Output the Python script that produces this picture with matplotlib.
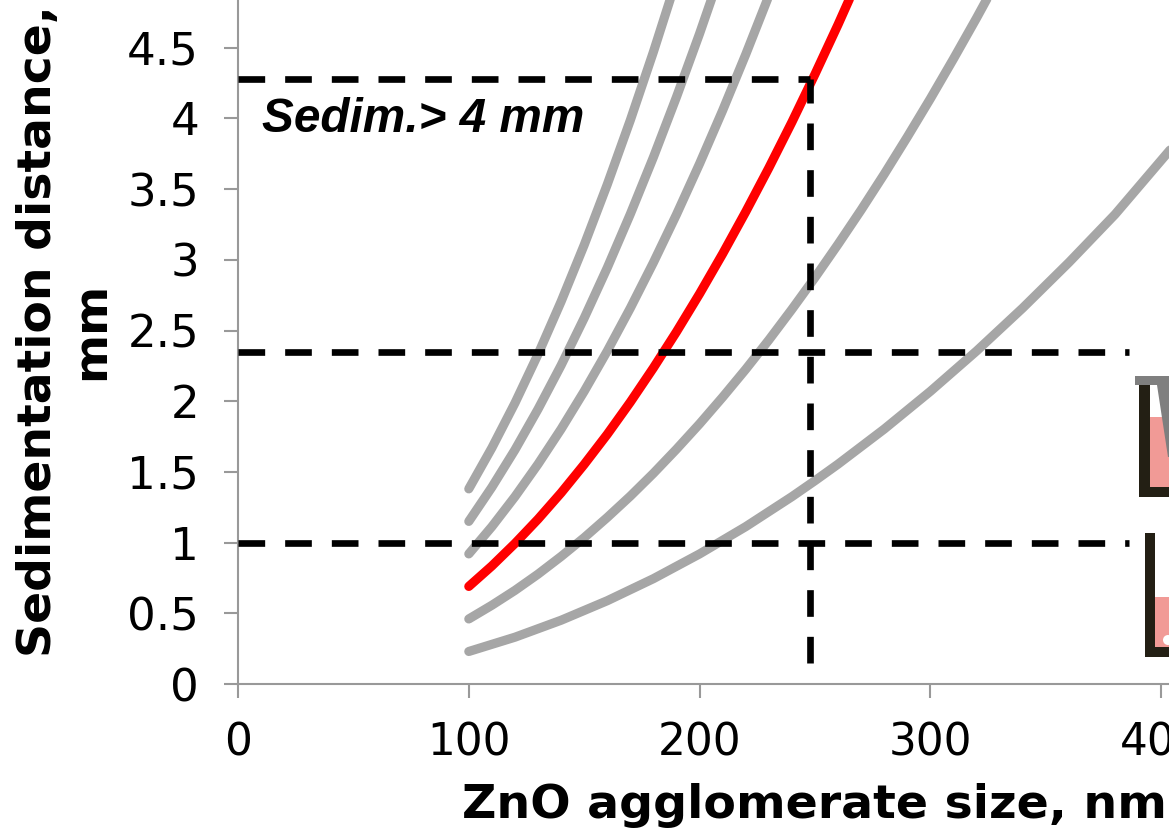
import matplotlib
matplotlib.use("Agg")
import matplotlib.pyplot as plt
from matplotlib.patches import Rectangle, Polygon, Circle

W, H = 1169, 831

# values
size_a = [100, 110, 120, 130, 140, 150, 160, 170, 180, 190, 195]
dist_a = [1.380, 1.670, 1.987, 2.332, 2.705, 3.105, 3.533, 3.988, 4.471, 4.982, 5.247]
size_b = [100, 110, 120, 130, 140, 150, 160, 170, 180, 190, 200, 210]
dist_b = [1.150, 1.392, 1.656, 1.944, 2.254, 2.588, 2.944, 3.324, 3.726, 4.152, 4.600, 5.072]
size_c = [100, 110, 120, 130, 140, 150, 160, 170, 180, 190, 200, 210, 220, 230, 240]
dist_c = [0.920, 1.113, 1.325, 1.555, 1.803, 2.070, 2.355, 2.659, 2.981, 3.321, 3.680, 4.057, 4.453, 4.867, 5.299]
size_red = [100, 110, 120, 130, 140, 150, 160, 170, 180, 190, 200, 210, 220, 230, 240, 250, 260, 270, 280]
dist_red = [0.690, 0.835, 0.994, 1.166, 1.352, 1.553, 1.766, 1.994, 2.236, 2.491, 2.760, 3.043, 3.340, 3.650,
            3.974, 4.313, 4.664, 5.030, 5.410]
size_d = [100, 110, 120, 130, 140, 150, 160, 170, 180, 190, 200, 210, 220, 230, 240, 250, 260, 270, 280, 290, 300,
          310, 320, 330, 340]
dist_d = [0.460, 0.557, 0.662, 0.777, 0.902, 1.035, 1.178, 1.329, 1.490, 1.661, 1.840, 2.029, 2.226, 2.433, 2.650,
          2.875, 3.110, 3.353, 3.606, 3.869, 4.140, 4.421, 4.710, 5.009, 5.318]
size_e = [100, 120, 140, 160, 180, 200, 220, 240, 250, 260, 280, 300, 320, 340, 360, 380, 404]
dist_e = [0.230, 0.331, 0.451, 0.589, 0.745, 0.920, 1.113, 1.325, 1.438, 1.555, 1.803, 2.070, 2.355, 2.659, 2.981,
          3.321, 3.780]

guide_y = [4.28, 2.35, 1.0]
guide_end = [248, 386, 386]
guide_x = 248
guide_x_from = 0.15

y_ticks = [0, 0.5, 1, 1.5, 2, 2.5, 3, 3.5, 4, 4.5]
y_labels = ["0", "0.5", "1", "1.5", "2", "2.5", "3", "3.5", "4", "4.5"]
x_ticks = [0, 100, 200, 300, 400]

GREY = "#A6A6A6"
AXIS = "#999999"
PINK = "#F19A96"
DARK = "#231F14"
CAP = "#7F7F7F"


def box(x0, y0, x1, y1, color):
    # rectangle given in picture pixels
    fig.add_artist(Rectangle((x0 / W, 1 - y1 / H), (x1 - x0) / W, (y1 - y0) / H,
                             transform=fig.transFigure, fc=color, ec="none", zorder=5))


fig = plt.figure(figsize=(W / 100, H / 100), dpi=100)
ax = fig.add_axes([238 / W, 1 - 684 / H, (W - 238) / W, 684 / H])
ax.set_xlim(0, (W - 238) / 2.308)
ax.set_ylim(0, 684 / 141.4)

for xs, ys in [(size_a, dist_a), (size_b, dist_b), (size_c, dist_c), (size_d, dist_d), (size_e, dist_e)]:
    ax.plot(xs, ys, color=GREY, lw=6.6, solid_capstyle="round", zorder=2)
ax.plot(size_red, dist_red, color="#FF0000", lw=6.6, solid_capstyle="round", zorder=3)

for yv, xe in zip(guide_y, guide_end):
    ax.plot([0, xe], [yv, yv], color="black", lw=4.8, dashes=(4.0, 3.0), zorder=4)
ax.plot([guide_x, guide_x], [guide_x_from, guide_y[0]], color="black", lw=4.8, dashes=(4.0, 3.0), zorder=4)

for s in ["top", "right"]:
    ax.spines[s].set_visible(False)
for s in ["left", "bottom"]:
    ax.spines[s].set_color(AXIS)
    ax.spines[s].set_linewidth(1.5)

ax.set_xticks(x_ticks)
ax.set_yticks(y_ticks)
ax.set_yticklabels(y_labels)
ax.tick_params(axis="both", direction="out", length=10, width=1.5, color=AXIS, labelcolor="black")
ax.tick_params(axis="y", pad=18, labelsize=32.5)
ax.tick_params(axis="x", pad=17, labelsize=31.5)

fig.text(462 / W, 1 - 805 / H, "ZnO agglomerate size, nm", fontsize=34.2, fontweight="bold",
         ha="left", va="center")
fig.text(65 / W, 1 - 331 / H, "Sedimentation distance,\nmm", fontsize=34, fontweight="bold",
         rotation=90, ha="center", va="center", multialignment="center", linespacing=1.25)
fig.text(262 / W, 1 - 120 / H, "Sedim.> 4 mm", fontsize=34.4, fontweight="bold", style="italic",
         family="Liberation Sans", ha="left", va="center")

# upper vial
box(1150, 417, W, 487, PINK)
box(1139, 385, 1150, 497, DARK)
box(1139, 487, W, 497, DARK)
box(1135, 376, W, 385, CAP)
fig.add_artist(Polygon([(1157 / W, 1 - 385 / H), (1168 / W, 1 - 457 / H), (1 + 1 / W, 1 - 457 / H),
                        (1 + 1 / W, 1 - 385 / H)], transform=fig.transFigure, fc=CAP, ec="none", zorder=6))

# lower vial
box(1155, 597, W, 647, PINK)
box(1145, 533, 1155, 657, DARK)
box(1145, 647, W, 657, DARK)
fig.add_artist(Circle((1168, H - 640), 5, transform=None, fc="white", ec="none", zorder=6))

fig.savefig("out.png", dpi=100)
plt.close()
